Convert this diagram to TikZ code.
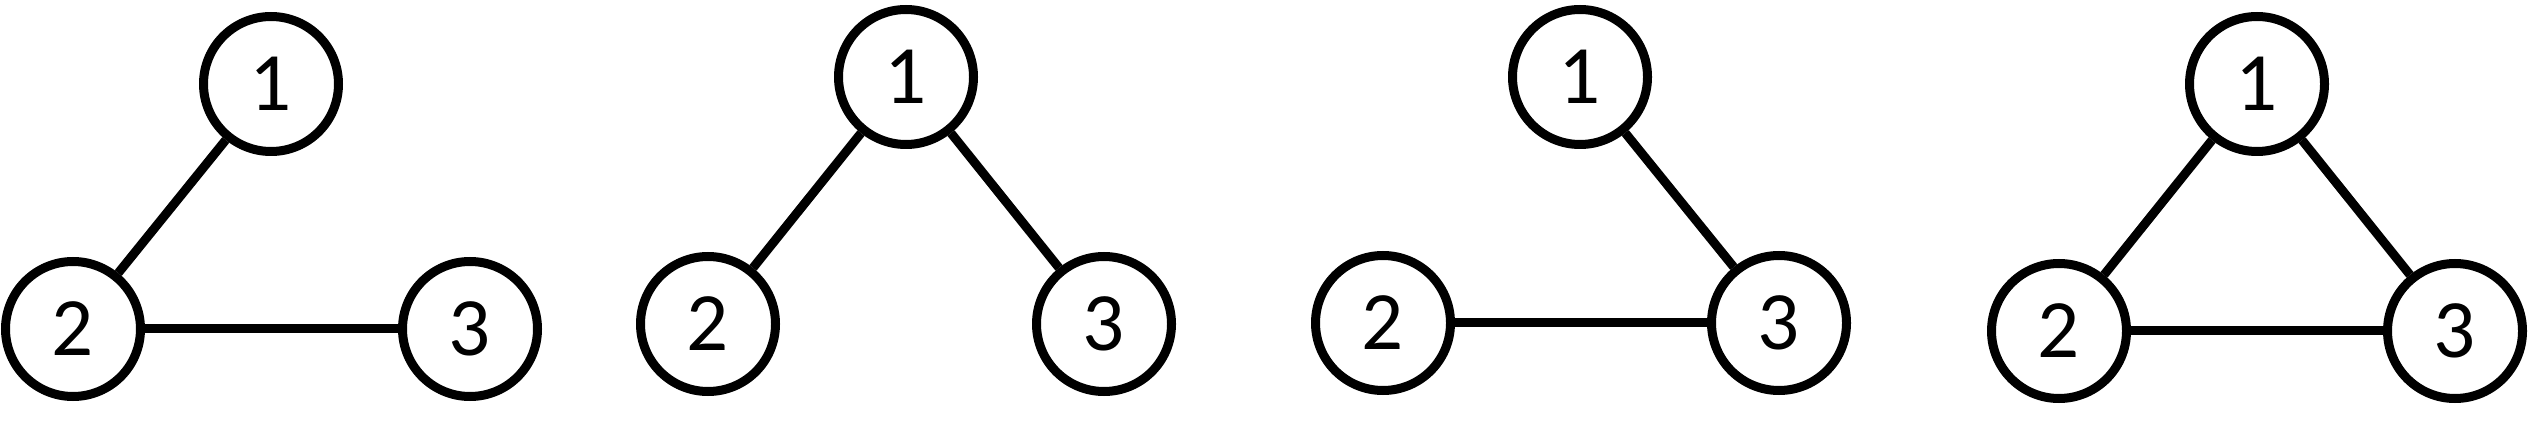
\documentclass[tikz,border=0pt]{standalone}
\usepackage{fontspec}
\setmainfont{Carlito}
\begin{document}
\begin{tikzpicture}[x=1pt,y=-1pt,
  vert/.style={circle,draw,line width=9pt,minimum size=135pt,inner sep=0pt,font=\fontsize{83}{83}\selectfont},
  edge/.style={line width=9pt}]
\useasboundingbox (0,0) rectangle (2528,430);
% graph 1
\node[vert] (a1) at (271,84) {1};
\node[vert] (a2) at (73,329) {2};
\node[vert] (a3) at (470,329) {3};
\draw[edge] (a1) -- (a2);
\draw[edge] (a2) -- (a3);
% graph 2
\node[vert] (b1) at (906,77) {1};
\node[vert] (b2) at (708,324) {2};
\node[vert] (b3) at (1104,324) {3};
\draw[edge] (b1) -- (b2);
\draw[edge] (b1) -- (b3);
% graph 3
\node[vert] (c1) at (1580,77) {1};
\node[vert] (c2) at (1383,323) {2};
\node[vert] (c3) at (1779,323) {3};
\draw[edge] (c1) -- (c3);
\draw[edge] (c2) -- (c3);
% graph 4
\node[vert] (d1) at (2257,84) {1};
\node[vert] (d2) at (2059,331) {2};
\node[vert] (d3) at (2455,331) {3};
\draw[edge] (d1) -- (d2);
\draw[edge] (d1) -- (d3);
\draw[edge] (d2) -- (d3);
\end{tikzpicture}
\end{document}
